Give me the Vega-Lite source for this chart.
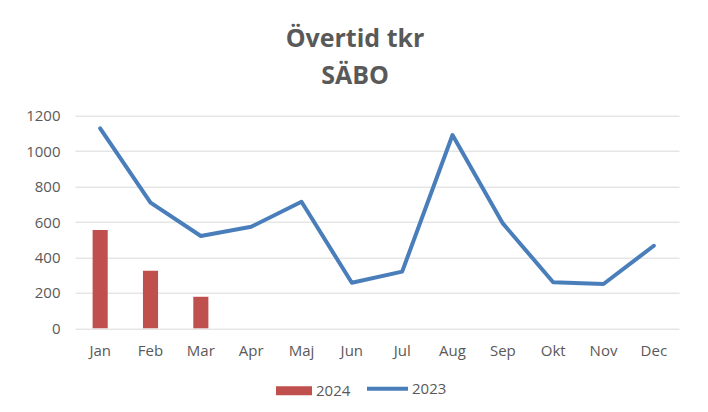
{
  "$schema": "https://vega.github.io/schema/vega-lite/v6.json",
  "width": 604,
  "height": 212.6,
  "autosize": "none",
  "padding": {"left": 75, "top": 115.7, "right": 29, "bottom": 83.7},
  "background": "white",
  "title": {
    "text": ["Övertid tkr", "SÄBO"],
    "font": "Open Sans",
    "fontSize": 25,
    "fontWeight": "bold",
    "color": "#595959",
    "lineHeight": 36.6,
    "anchor": "middle",
    "frame": "group",
    "dx": -22,
    "offset": 20
  },
  "data": {
    "values": [
      {"month": "Jan", "series": "2024", "value": 555},
      {"month": "Feb", "series": "2024", "value": 325},
      {"month": "Mar", "series": "2024", "value": 178},
      {"month": "Jan", "series": "2023", "value": 1128},
      {"month": "Feb", "series": "2023", "value": 709},
      {"month": "Mar", "series": "2023", "value": 521},
      {"month": "Apr", "series": "2023", "value": 573},
      {"month": "Maj", "series": "2023", "value": 714},
      {"month": "Jun", "series": "2023", "value": 257},
      {"month": "Jul", "series": "2023", "value": 320},
      {"month": "Aug", "series": "2023", "value": 1091},
      {"month": "Sep", "series": "2023", "value": 592},
      {"month": "Okt", "series": "2023", "value": 260},
      {"month": "Nov", "series": "2023", "value": 250},
      {"month": "Dec", "series": "2023", "value": 466}
    ]
  },
  "encoding": {
    "x": {
      "field": "month",
      "type": "nominal",
      "sort": ["Jan", "Feb", "Mar", "Apr", "Maj", "Jun", "Jul", "Aug", "Sep", "Okt", "Nov", "Dec"],
      "scale": {"domain": ["Jan", "Feb", "Mar", "Apr", "Maj", "Jun", "Jul", "Aug", "Sep", "Okt", "Nov", "Dec"], "paddingInner": 0.7, "paddingOuter": 0.35},
      "axis": {
        "title": null,
        "labelAngle": 0,
        "ticks": false,
        "domain": false,
        "labelPadding": 15,
        "labelFont": "Open Sans",
        "labelFontSize": 15,
        "labelColor": "#595959"
      }
    },
    "y": {
      "field": "value",
      "type": "quantitative",
      "scale": {"domain": [0, 1200], "nice": false},
      "axis": {
        "title": null,
        "values": [0, 200, 400, 600, 800, 1000, 1200],
        "format": "d",
        "grid": true,
        "gridColor": "#D9D9D9",
        "gridWidth": 1,
        "domain": false,
        "ticks": false,
        "labelPadding": 15,
        "labelFont": "Open Sans",
        "labelFontSize": 15,
        "labelColor": "#595959"
      }
    }
  },
  "layer": [
    {
      "transform": [{"filter": "datum.series === '2024'"}],
      "mark": {"type": "bar"},
      "encoding": {
        "fill": {
          "field": "series",
          "type": "nominal",
          "scale": {"domain": ["2024"], "range": ["#C0504D"]},
          "legend": {
            "title": null,
            "orient": "none",
            "legendX": 201,
            "legendY": 257,
            "symbolType": "M-1,-0.25H1V0.25H-1Z",
            "symbolSize": 1296,
            "symbolStrokeWidth": 0,
            "labelFont": "Open Sans",
            "labelFontSize": 15,
            "labelColor": "#595959",
            "labelOffset": 4,
            "padding": 0
          }
        }
      }
    },
    {
      "transform": [{"filter": "datum.series === '2023'"}],
      "mark": {"type": "line", "strokeWidth": 4, "strokeJoin": "round", "strokeCap": "round"},
      "encoding": {
        "stroke": {
          "field": "series",
          "type": "nominal",
          "scale": {"domain": ["2023"], "range": ["#4A7EBB"]},
          "legend": {
            "title": null,
            "orient": "none",
            "legendX": 290,
            "legendY": 250.5,
            "symbolType": "stroke",
            "symbolSize": 1681,
            "symbolStrokeWidth": 4,
            "labelFont": "Open Sans",
            "labelFontSize": 15,
            "labelColor": "#595959",
            "labelOffset": 2,
            "padding": 0
          }
        }
      }
    }
  ],
  "config": {
    "view": {"stroke": null}
  }
}
